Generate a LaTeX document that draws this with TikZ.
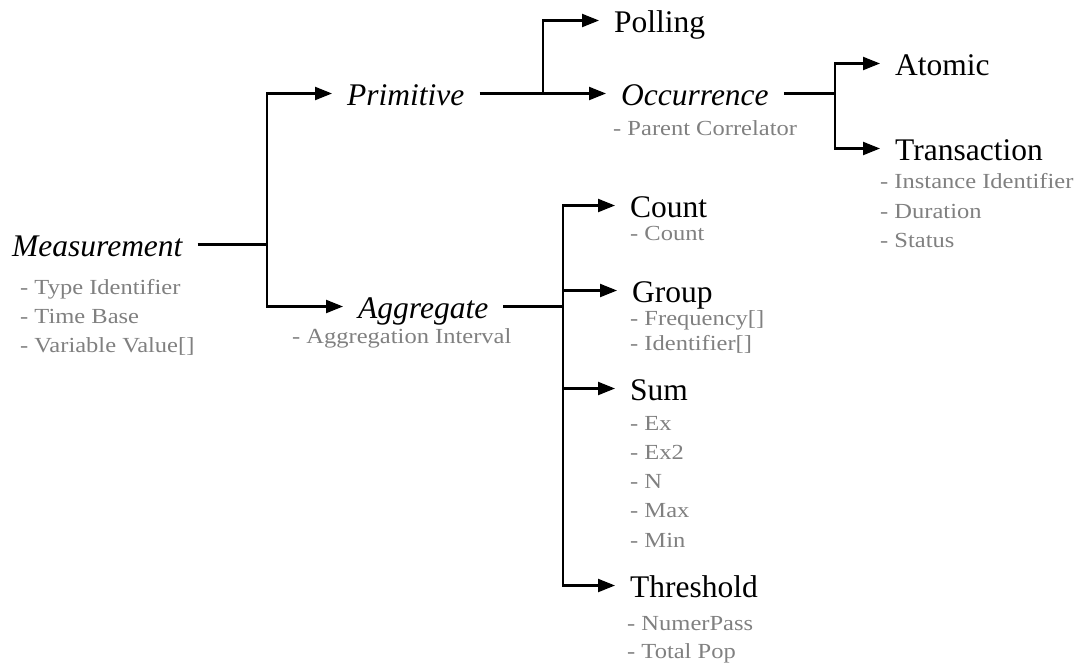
\documentclass[tikz,border=0pt]{standalone}
\usepackage{fontspec}
\setmainfont{Liberation Serif}
\newfontfamily\headfont{Liberation Serif}
\newfontfamily\notefont[FakeStretch=1.14]{Liberation Serif}
\usetikzlibrary{arrows.meta}
\definecolor{notegray}{RGB}{128,128,128}
\tikzset{
  concept/.style={anchor=base west, xshift=-15pt, inner xsep=15pt, inner ysep=0pt,
    text height=24pt, text depth=1pt, font=\headfont\fontsize{31.5}{32}\selectfont},
  abstract/.style={concept, font=\headfont\fontsize{31.5}{32}\selectfont\itshape},
  note/.style={anchor=base west, inner sep=0pt, text=notegray,
    font=\notefont\fontsize{21.5}{22}\selectfont},
  link/.style={line width=2.2pt},
  arrowlink/.style={link, -{Triangle[length=17pt,width=13pt]}},
}
\begin{document}
\begin{tikzpicture}[x=1pt,y=-1pt]
\useasboundingbox (0,0) rectangle (1079,664);

% class names
\node[abstract] (meas)   at (12,256)  {Measurement};
\node[abstract] (prim)   at (347,105) {Primitive};
\node[concept]  (poll)   at (614,32)  {Polling};
\node[abstract] (occ)    at (621,105) {Occurrence};
\node[concept]  (atom)   at (895,75)  {Atomic};
\node[concept]  (trans)  at (895,160) {Transaction};
\node[abstract] (agg)    at (358,318) {Aggregate};
\node[concept]  (count)  at (630,217) {Count};
\node[concept]  (group)  at (632,302) {Group};
\node[concept]  (sum)    at (630,400) {Sum};
\node[concept]  (thresh) at (630,597) {Threshold};

% attributes
\node[note] (meas-a1) at (20,294) {- Type Identifier};
\node[note] (meas-a2) at (20,323) {- Time Base};
\node[note] (meas-a3) at (20,352) {- Variable Value[]};
\node[note] (occ-a1) at (613,135) {- Parent Correlator};
\node[note] (trans-a1) at (880,188) {- Instance Identifier};
\node[note] (trans-a2) at (880,218) {- Duration};
\node[note] (trans-a3) at (880,247) {- Status};
\node[note] (agg-a1) at (292,343) {- Aggregation Interval};
\node[note] (count-a1) at (630,240) {- Count};
\node[note] (group-a1) at (630,325) {- Frequency[]};
\node[note] (group-a2) at (630,350) {- Identifier[]};
\node[note] (sum-a1) at (630,430) {- Ex};
\node[note] (sum-a2) at (630,459) {- Ex2};
\node[note] (sum-a3) at (630,488) {- N};
\node[note] (sum-a4) at (630,517) {- Max};
\node[note] (sum-a5) at (630,547) {- Min};
\node[note] (thresh-a1) at (627,630) {- NumerPass};
\node[note] (thresh-a2) at (627,658) {- Total Pop};

% branch points
\coordinate (jm) at (267,0);
\coordinate (jp) at (543,0);
\coordinate (jo) at (835,0);
\coordinate (ja) at (563,0);

% Measurement branches
\draw[link] (meas.east) -- (meas.east -| jm);
\draw[arrowlink] (meas.east -| jm) |- (prim.west);
\draw[arrowlink] (meas.east -| jm) |- (agg.west);

% Primitive branches
\draw[arrowlink] (prim.east) -- (occ.west);
\draw[arrowlink] (prim.east -| jp) |- (poll.west);

% Occurrence branches
\draw[link] (occ.east) -- (occ.east -| jo);
\draw[arrowlink] (occ.east -| jo) |- (atom.west);
\draw[arrowlink] (occ.east -| jo) |- (trans.west);

% Aggregate branches
\draw[link] (agg.east) -- (agg.east -| ja);
\draw[arrowlink] (agg.east -| ja) |- (count.west);
\draw[arrowlink] (agg.east -| ja) |- (group.west);
\draw[arrowlink] (agg.east -| ja) |- (sum.west);
\draw[arrowlink] (agg.east -| ja) |- (thresh.west);
\end{tikzpicture}
\end{document}
